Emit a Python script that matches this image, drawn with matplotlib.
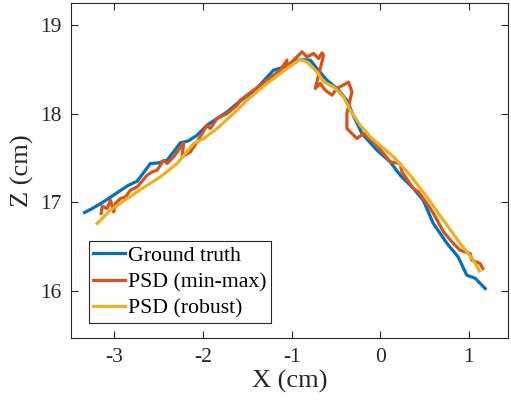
import matplotlib
matplotlib.use('Agg')
import matplotlib.pyplot as plt
import numpy as np

######################################################
# values (cm)

gt_x = [-3.338, -3.251, -3.124, -2.955, -2.842, -2.744, -2.594, -2.504, -2.406,
        -2.256, -2.166, -2.068, -1.955, -1.842, -1.729, -1.617, -1.41, -1.207,
        -1.128, -0.982, -0.903, -0.79, -0.715, -0.602, -0.489, -0.377, -0.306,
        -0.207, -0.038, 0.112, 0.224, 0.371, 0.484, 0.596, 0.751, 0.878, 0.976,
        1.07, 1.183]
gt_z = [16.886, 16.931, 17.006, 17.119, 17.194, 17.239, 17.439, 17.446, 17.476,
        17.672, 17.694, 17.758, 17.871, 17.947, 18.021, 18.116, 18.27, 18.49,
        18.515, 18.586, 18.613, 18.605, 18.511, 18.379, 18.286, 18.154, 17.984,
        17.778, 17.589, 17.457, 17.307, 17.160, 17.025, 16.765, 16.539, 16.385,
        16.178, 16.144, 16.028]

mm_x = [-3.150, -3.139, -3.082, -3.045, -3.008, -2.989, -2.932, -2.876, -2.820,
        -2.744, -2.631, -2.575, -2.519, -2.444, -2.406, -2.331, -2.219, -2.237,
        -2.143, -2.068, -1.955, -1.918, -1.842, -1.729, -1.617, -1.580, -1.430,
        -1.278, -1.128, -1.053, -1.072, -0.979, -0.884, -0.828, -0.753, -0.697,
        -0.658, -0.640, -0.734, -0.678, -0.621, -0.546, -0.489, -0.358, -0.320,
        -0.377, -0.377, -0.264, -0.189, -0.038, 0.112, 0.224, 0.244, 0.374,
        0.431, 0.525, 0.600, 0.713, 0.825, 0.901, 1.014, 1.033, 1.126, 1.157]
mm_z = [16.875, 16.957, 16.931, 17.025, 16.893, 16.988, 17.044, 17.062, 17.138,
        17.175, 17.307, 17.344, 17.363, 17.476, 17.439, 17.514, 17.672, 17.514,
        17.570, 17.683, 17.871, 17.834, 17.947, 18.003, 18.097, 18.154, 18.266,
        18.379, 18.492, 18.605, 18.511, 18.605, 18.699, 18.642, 18.681, 18.624,
        18.687, 18.661, 18.286, 18.342, 18.266, 18.210, 18.286, 18.357, 18.247,
        18.003, 17.834, 17.721, 17.778, 17.646, 17.457, 17.439, 17.344, 17.157,
        17.119, 16.988, 16.875, 16.667, 16.536, 16.460, 16.423, 16.348, 16.310,
        16.254]

rb_x = [-3.195, -3.045, -2.857, -2.67, -2.481, -2.293, -2.106, -1.993, -1.842,
        -1.655, -1.504, -1.278, -1.053, -0.903, -0.828, -0.715, -0.640, -0.528,
        -0.415, -0.339, -0.227, -0.095, 0.149, 0.337, 0.525, 0.675, 0.901,
        1.051, 1.118]
rb_z = [16.762, 16.912, 17.044, 17.168, 17.288, 17.439, 17.665, 17.721, 17.834,
        18.003, 18.154, 18.342, 18.511, 18.613, 18.586, 18.473, 18.36, 18.304,
        18.191, 18.041, 17.871, 17.721, 17.514, 17.307, 17.062, 16.850, 16.536,
        16.348, 16.227]

######################################################

plt.rcParams['font.family'] = ['Liberation Serif', 'DejaVu Serif']
dark = '#262626'

fig = plt.figure(figsize=(5.11, 4.08), dpi=100)
ax = fig.add_axes([0.139, 0.1716, 0.855, 0.821])

ax.plot(gt_x, gt_z, c='#0072BD', lw=2.3, label='Ground truth')
ax.plot(mm_x, mm_z, c='#D95319', lw=2.3, label='PSD (min-max)')
ax.plot(rb_x, rb_z, c='#EDB120', lw=2.3, label='PSD (robust)')

ax.set_xlim(-3.49, 1.44)
ax.set_ylim(15.47, 19.25)
ax.set_xticks([-3, -2, -1, 0, 1])
ax.set_yticks([16, 17, 18, 19])
ax.set_xticklabels(['-3', '-2', '-1', '0', '1'])
ax.tick_params(direction='in', length=5, width=0.8, top=True, right=True,
               labelsize=15.5, colors=dark, pad=7)
for s in ax.spines.values():
    s.set_color(dark)
    s.set_linewidth(0.8)
ax.set_xlabel('X (cm)', fontsize=19, color=dark, labelpad=2)
ax.set_ylabel('Z (cm)', fontsize=19, color=dark, labelpad=4)

leg = ax.legend(loc='lower left', bbox_to_anchor=(0.041, 0.045), borderaxespad=0,
                fontsize=15.7, handlelength=1.45, handletextpad=0.15,
                labelspacing=0.28, borderpad=0.2, fancybox=False,
                framealpha=1, edgecolor=dark)
leg.get_frame().set_linewidth(0.8)

plt.savefig('out.png', dpi=100)
